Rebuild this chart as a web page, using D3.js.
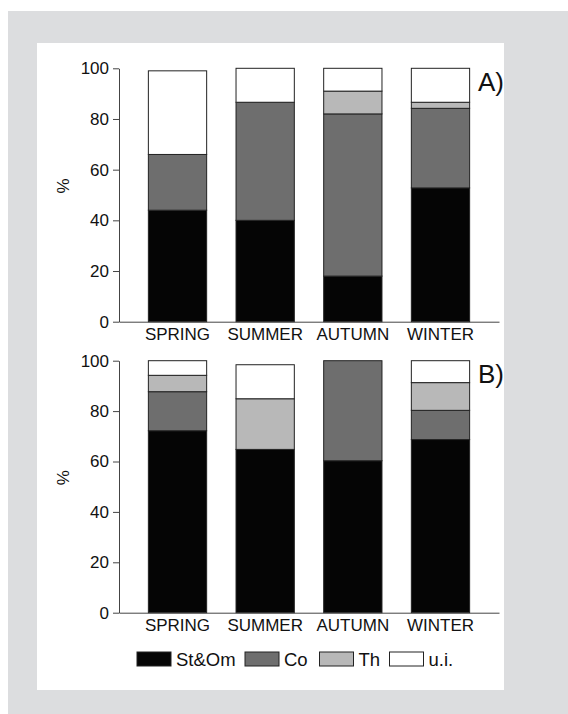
<!DOCTYPE html>
<html>
<head>
<meta charset="utf-8">
<script src="https://cdn.jsdelivr.net/npm/d3@7"></script>
<style>
  body { margin: 0; background: #fff; }
  text { font-family: "Liberation Sans", Arial, sans-serif; fill: #111; }
</style>
</head>
<body>
<div></div>
<script>
const seasons = ['SPRING', 'SUMMER', 'AUTUMN', 'WINTER'];
const groups = ['St&Om', 'Co', 'Th', 'u.i.'];
const colours = ['#050505', '#6e6e6e', '#b8b8b8', '#ffffff'];
const yTicks = [0, 20, 40, 60, 80, 100];

// panel A, % per season
const stomA = [44, 40, 18, 52.8];
const coA   = [22, 46.6, 64, 31.4];
const thA   = [0, 0, 9, 2.4];
const uiA   = [33, 13.4, 9, 13.4];

// panel B
const stomB = [72.2, 64.8, 60.3, 68.7];
const coB   = [15.5, 0, 39.7, 11.6];
const thB   = [6.5, 20.1, 0, 11];
const uiB   = [5.8, 13.5, 0, 8.7];

const w = 568;
const h = 714;

const svg = d3.select('div')
    .append('svg')
    .attr('width', w)
    .attr('height', h);

svg.append('rect')
    .attr('x', 8).attr('y', 11)
    .attr('width', w - 8).attr('height', h - 11)
    .attr('fill', '#dcdddf');

svg.append('rect')
    .attr('x', 37).attr('y', 43)
    .attr('width', 467).attr('height', 647)
    .attr('fill', '#fff');

const xScale = d3.scaleBand()
    .domain(seasons)
    .range([119, 499])
    .padding(0.335);

const stack = d3.stack().keys(groups);

function panel(series, yBottom, yTop, label) {
    const rows = seasons.map((s, i) => {
        const row = { season: s };
        groups.forEach((g, j) => row[g] = series[j][i]);
        return row;
    });

    const yScale = d3.scaleLinear()
        .domain([0, 100])
        .range([yBottom, yTop]);

    const g = svg.append('g');

    g.selectAll('g.layer')
        .data(stack(rows))
        .enter()
        .append('g')
        .attr('class', 'layer')
        .attr('fill', (d, i) => colours[i])
        .selectAll('rect')
        .data(d => d.filter(p => p[1] - p[0] > 0))
        .enter()
        .append('rect')
        .attr('x', d => xScale(d.data.season))
        .attr('y', d => yScale(d[1]))
        .attr('width', xScale.bandwidth())
        .attr('height', d => yScale(d[0]) - yScale(d[1]))
        .attr('stroke', '#222')
        .attr('stroke-width', 1);

    const yAxis = d3.axisLeft(yScale)
        .tickValues(yTicks)
        .tickSize(6)
        .tickSizeOuter(0)
        .tickPadding(4);

    const ya = g.append('g')
        .attr('transform', 'translate(119,0)')
        .call(yAxis);
    ya.selectAll('path, line').attr('stroke', '#444');
    ya.selectAll('text').style('font-size', '17px').attr('fill', '#111')
        .style('font-family', '"Liberation Sans", Arial, sans-serif');

    const xAxis = d3.axisBottom(xScale)
        .tickSize(0)
        .tickPadding(6);

    const xa = g.append('g')
        .attr('transform', 'translate(0,' + yBottom + ')')
        .call(xAxis);
    xa.select('path').attr('stroke', '#444');
    xa.selectAll('text').style('font-size', '17px').attr('fill', '#111')
        .style('font-family', '"Liberation Sans", Arial, sans-serif');

    g.append('text')
        .attr('transform', 'translate(63,' + (yScale(50) - 9) + ') rotate(-90)')
        .attr('text-anchor', 'middle')
        .attr('dy', '0.35em')
        .style('font-size', '17px')
        .text('%');

    g.append('text')
        .attr('x', 478)
        .attr('y', yTop + 22.5)
        .style('font-size', '26px')
        .text(label);
}

panel([stomA, coA, thA, uiA], 321.7, 68.3, 'A)');
panel([stomB, coB, thB, uiB], 612.7, 360.7, 'B)');

// legend
const legendX = [137, 245, 319.5, 389.5];
const legend = svg.append('g');
groups.forEach((g, i) => {
    legend.append('rect')
        .attr('x', legendX[i]).attr('y', 652)
        .attr('width', 34).attr('height', 14)
        .attr('fill', colours[i])
        .attr('stroke', '#222')
        .attr('stroke-width', 1);
    legend.append('text')
        .attr('x', legendX[i] + 39)
        .attr('y', 666)
        .style('font-size', '18.5px')
        .text(g);
});
</script>
</body>
</html>
